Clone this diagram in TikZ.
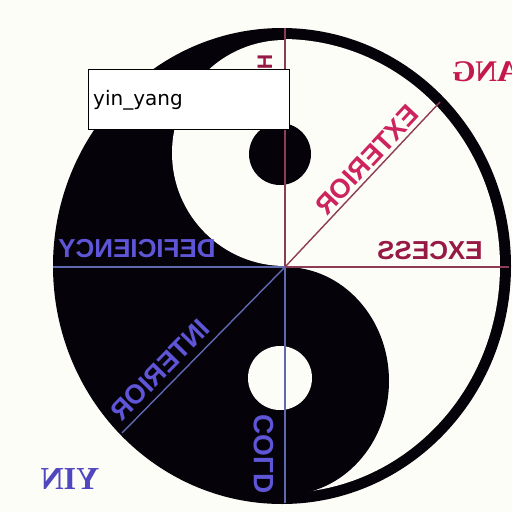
\documentclass[tikz,border=0pt]{standalone}
\usepackage{fontspec}
\setmainfont{Liberation Serif}
\setsansfont{Liberation Sans}
\newfontfamily\labelfont{DejaVu Sans}
\definecolor{bg}{RGB}{253,253,247}
\definecolor{ink}{RGB}{6,2,10}
\definecolor{bluetext}{RGB}{95,85,215}
\definecolor{blueline}{RGB}{95,105,175}
\definecolor{redline}{RGB}{140,60,85}
\definecolor{redtext}{RGB}{150,25,70}
\definecolor{pinktext}{RGB}{205,35,95}
\definecolor{yintext}{RGB}{80,70,190}
\definecolor{yangtext}{RGB}{195,25,75}
\begin{document}
\begin{tikzpicture}[x=1pt,y=-1pt,
  sanslbl/.style={font=\sffamily\bfseries\fontsize{#1}{#1}\selectfont, inner sep=0pt},
  seriflbl/.style={font=\rmfamily\bfseries\fontsize{#1}{#1}\selectfont, inner sep=0pt},
  axisline/.style={line width=1.4pt}]
\useasboundingbox (0,0) rectangle (512,512);
\fill[bg] (0,0) rectangle (512,512);
\begin{scope}
\clip (0,0) rectangle (512,512);
\coordinate (O) at (282,266);
\coordinate (C) at (285,267);
\coordinate (Top) at (285,28);
\coordinate (Bot) at (285,503);
\coordinate (L) at (53,267);
\coordinate (R) at (509,267);
\coordinate (UR) at (440,102);
\coordinate (LL) at (122,433);
% yin-yang body
\fill[ink] (O) ellipse [x radius=229, y radius=238];
\begin{scope}
\clip (285,0) rectangle (512,512);
\fill[bg] (O) ellipse [x radius=218, y radius=227];
\end{scope}
\fill[bg] (285,153) circle [radius=113];
\fill[ink] (285,381) ellipse [x radius=104, y radius=114];
\fill[ink] (280,154) circle [radius=31];
\fill[bg] (280,378) circle [radius=32];
% axes
\draw[axisline, redline] (C) -- (Top);
\draw[axisline, blueline] (C) -- (Bot);
\draw[axisline, blueline] (C) -- (L);
\draw[axisline, redline] (C) -- (R);
\draw[axisline, redline] (C) -- (UR);
\draw[axisline, blueline] (C) -- (LL);
% labels (mirrored)
\node[sanslbl=26, text=bluetext, xscale=-1] (def) at (137,249) {DEFICIENCY};
\node[sanslbl=26, text=redtext, xscale=-1] (exc) at (430,251) {EXCESS};
\node[sanslbl=27, text=pinktext, rotate=47, xscale=-1] (ext) at (367,160) {EXTERIOR};
\node[sanslbl=27, text=bluetext, rotate=45.5, xscale=-1] (int) at (160,370) {INTERIOR};
\node[sanslbl=28, text=bluetext, rotate=90, xscale=-1] (cold) at (264,454) {COLD};
\node[sanslbl=21, text=redtext, rotate=90, xscale=-1] (hot) at (265,62) {H};
\node[seriflbl=30, text=yangtext, xscale=-1] (yang) at (495,72) {YANG};
\node[seriflbl=32, text=yintext, xscale=-1] (yin) at (70,479) {YIN};
\end{scope}
% caption box
\node[draw=black, fill=white, line width=0.9pt, minimum width=201pt, minimum height=60pt, anchor=north west, inner sep=0pt] (box) at (88,69) {};
\node[anchor=base west, font=\labelfont\fontsize{20}{20}\selectfont, inner sep=0pt] (boxtext) at (93,105) {yin\_yang};
\end{tikzpicture}
\end{document}
